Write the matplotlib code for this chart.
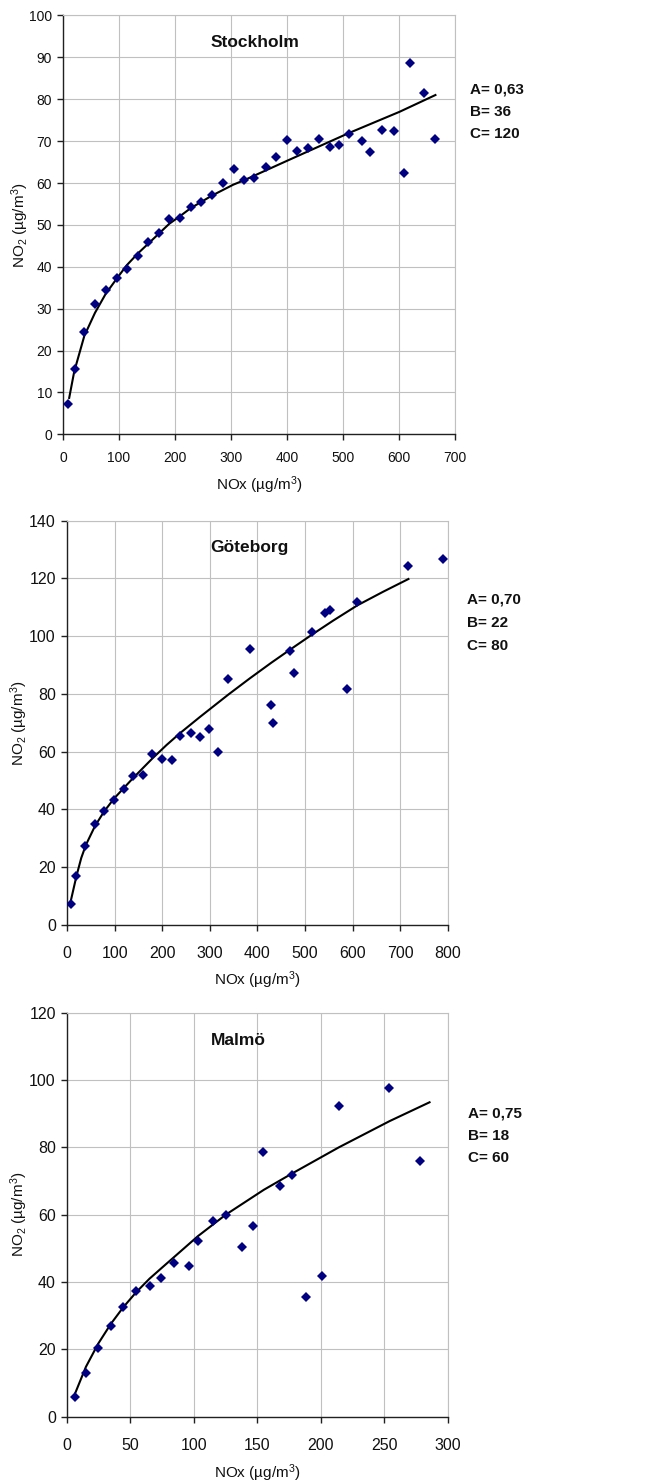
import numpy as np
import matplotlib
matplotlib.use("Agg")
import matplotlib.pyplot as plt

plt.rcParams['font.family'] = ['Liberation Sans', 'DejaVu Sans']
plt.rcParams['mathtext.fontset'] = 'custom'
plt.rcParams['mathtext.rm'] = 'Liberation Sans'
plt.rcParams['mathtext.it'] = 'Liberation Sans:italic'
plt.rcParams['mathtext.bf'] = 'Liberation Sans:bold'

# Stockholm: measured NOx / NO2 pairs and the fitted curve
sthlm_nox = [8, 21, 38, 57, 76, 96, 114, 133, 152, 171, 190, 209, 228, 247, 266, 285,
             305, 324, 341, 362, 380, 400, 418, 437, 457, 476, 493, 510, 533, 549,
             570, 591, 609, 619, 645, 665]
sthlm_no2 = [7.2, 15.6, 24.5, 31.0, 34.4, 37.4, 39.4, 42.6, 46.0, 48.0, 51.3, 51.7, 54.3,
             55.5, 57.1, 60.1, 63.3, 60.6, 61.3, 63.9, 66.2, 70.3, 67.7, 68.4, 70.6, 68.5,
             69.0, 71.6, 70.1, 67.4, 72.7, 72.3, 62.5, 88.6, 81.6, 70.4]
sthlm_fit_nox = [11, 20, 38, 57, 76, 96, 114, 133, 152, 190, 209, 228, 266, 304, 324,
                 400, 510, 601, 665]
sthlm_fit_no2 = [8.7, 15.0, 23.5, 29.0, 33.5, 37.2, 40.4, 43.1, 45.5, 50.3, 52.1, 54.0,
                 57.0, 59.6, 60.7, 65.3, 71.9, 77.0, 81.0]
sthlm_params = ["A= 0,63", "B= 36", "C= 120"]

# Göteborg
gbg_nox = [8, 20, 38.5, 59, 78, 99, 119, 139, 159, 179, 199, 221, 238, 260, 279, 298,
           317, 339, 384, 429, 432, 469, 477, 515, 541, 553, 587, 610, 717, 789]
gbg_no2 = [7.2, 16.9, 27.5, 35.1, 39.5, 43.4, 47.2, 51.6, 52.0, 59.3, 57.5, 57.0, 65.4,
           66.6, 65.0, 67.7, 60.0, 85.1, 95.5, 76.0, 70.1, 94.9, 87.2, 101.6, 108.0,
           109.2, 81.7, 111.9, 124.3, 126.9]
gbg_fit_nox = [8.4, 20, 30, 40, 59, 78, 99, 139, 179, 209, 238, 279, 339, 384, 429, 469,
               515, 559, 610, 664, 717]
gbg_fit_no2 = [8.6, 17.0, 23.2, 27.8, 34.3, 39.3, 43.8, 50.9, 57.6, 62.3, 66.5, 72.0,
               79.8, 85.4, 90.8, 95.4, 100.6, 105.4, 110.7, 115.4, 119.8]
gbg_params = ["A= 0,70", "B= 22", "C= 80"]

# Malmö
malmo_nox = [6.6, 14.9, 24.6, 34.6, 44.3, 54.3, 65.0, 73.7, 84.2, 95.7, 103.0, 114.8,
             125.1, 137.9, 146.3, 154.7, 167.5, 177.5, 188.5, 201.1, 214.2, 253.8, 277.9]
malmo_no2 = [5.9, 13.1, 20.4, 26.9, 32.6, 37.2, 38.9, 41.3, 45.8, 44.7, 52.2, 58.0, 59.9,
             50.3, 56.7, 78.6, 68.5, 71.7, 35.7, 41.8, 92.3, 97.6, 76.1]
malmo_fit_nox = [6.6, 14.9, 24.6, 34.6, 44.3, 54.3, 65, 74, 103, 125, 155, 177.5, 214,
                 254, 285.5]
malmo_fit_no2 = [7.1, 14.8, 21.7, 27.6, 32.5, 36.9, 41.0, 44.0, 53.6, 60.0, 67.4, 72.3,
                 80.0, 87.8, 93.4]
malmo_params = ["A= 0,75", "B= 18", "C= 60"]

MARKER_COLOR = '#000080'
GRID_COLOR = '#c0c0c0'
AXIS_COLOR = '#202020'


def draw_panel(ax, nox, no2, fit_nox, fit_no2, city, params, xmax, xstep, ymax, ystep,
               ticksize, xpad, title_pos, param_pos, xlabel_y, ylabel_x):
    ax.plot(fit_nox, fit_no2, color='black', lw=1.5, zorder=3)
    ax.plot(nox, no2, 'D', color=MARKER_COLOR, ms=5.6, mew=0, zorder=4)

    ax.set_xlim(0, xmax)
    ax.set_ylim(0, ymax)
    ax.set_xticks(np.arange(0, xmax + 1, xstep))
    ax.set_yticks(np.arange(0, ymax + 1, ystep))
    ax.grid(True, color=GRID_COLOR, lw=0.8)
    ax.set_axisbelow(True)

    for side in ('top', 'right'):
        ax.spines[side].set_color(GRID_COLOR)
        ax.spines[side].set_linewidth(0.8)
    for side in ('left', 'bottom'):
        ax.spines[side].set_color(AXIS_COLOR)
        ax.spines[side].set_linewidth(1.0)
    ax.tick_params(direction='out', length=4, width=1, color=AXIS_COLOR,
                   labelsize=ticksize, labelcolor='#111111')
    ax.tick_params(axis='x', pad=xpad)
    ax.tick_params(axis='y', pad=4)

    ax.set_xlabel('NOx (µg/m$^3$)', fontsize=11, color='#111111')
    ax.set_ylabel('NO$_2$ (µg/m$^3$)', fontsize=11, color='#111111')
    ax.xaxis.label.set_va('center')
    ax.yaxis.label.set_va('center')
    ax.xaxis.set_label_coords(0.5, xlabel_y)
    ax.yaxis.set_label_coords(ylabel_x, 0.5)

    ax.text(title_pos[0], title_pos[1], city, transform=ax.transAxes,
            ha='center', va='center', fontsize=12.5, fontweight='bold', color='#111111')
    for i, line in enumerate(params):
        ax.text(param_pos[0], param_pos[1] - i * param_pos[2], line,
                transform=ax.transAxes, ha='left', va='center',
                fontsize=11, fontweight='bold', color='#111111', clip_on=False)


fig = plt.figure(figsize=(6.67, 14.83), dpi=100)
ax1 = fig.add_axes([0.0945, 0.7071, 0.5877, 0.2825])
ax2 = fig.add_axes([0.1004, 0.3763, 0.5712, 0.2726])
ax3 = fig.add_axes([0.1004, 0.0447, 0.5712, 0.2724])

draw_panel(ax1, sthlm_nox, sthlm_no2, sthlm_fit_nox, sthlm_fit_no2, 'Stockholm',
           sthlm_params, 700, 100, 100, 10, 10, 8, (0.489, 0.936),
           (1.038, 0.822, 0.0525), -0.121, -0.110)
draw_panel(ax2, gbg_nox, gbg_no2, gbg_fit_nox, gbg_fit_no2, 'Göteborg',
           gbg_params, 800, 100, 140, 20, 11.5, 11, (0.479, 0.934),
           (1.049, 0.804, 0.057), -0.136, -0.126)
draw_panel(ax3, malmo_nox, malmo_no2, malmo_fit_nox, malmo_fit_no2, 'Malmö',
           malmo_params, 300, 50, 120, 20, 11.5, 11, (0.45, 0.932),
           (1.052, 0.751, 0.0555), -0.139, -0.126)

fig.savefig('out.png', dpi=100, facecolor='white')
